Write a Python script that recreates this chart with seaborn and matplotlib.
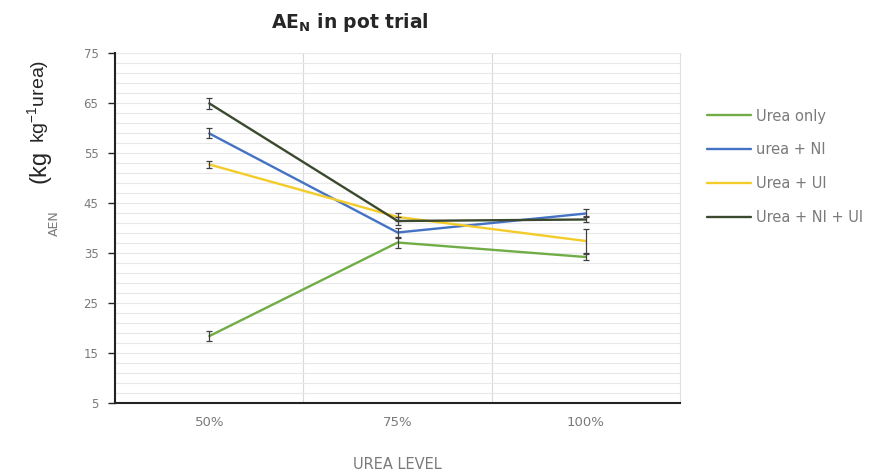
import numpy as np
import pandas as pd
import seaborn as sns
import matplotlib.pyplot as plt

# data
levels = ["50%", "75%", "100%"]
treatments = ["Urea only", "urea + NI", "Urea + UI", "Urea + NI + UI"]
urea_only = [18.4, 37.1, 34.2]
urea_ni = [58.9, 39.1, 42.9]
urea_ui = [52.7, 42.2, 37.4]
urea_ni_ui = [64.9, 41.4, 41.7]
err_urea_only = [1.0, 1.0, 0.6]
err_urea_ni = [1.0, 0.9, 0.8]
err_urea_ui = [0.7, 0.8, 2.4]
err_urea_ni_ui = [1.1, 0.7, 0.6]
colors = ["#70AD47", "#4472C4", "#F4CC2A", "#3B4A2E"]

values = [urea_only, urea_ni, urea_ui, urea_ni_ui]
errors = [err_urea_only, err_urea_ni, err_urea_ui, err_urea_ni_ui]

df = pd.DataFrame({
    "level": levels * len(treatments),
    "treatment": np.repeat(treatments, len(levels)),
    "aen": np.concatenate(values),
})

sns.set_style("white")
plt.rcParams['font.family'] = ['DejaVu Sans']

fig = plt.figure(figsize=(8.72, 4.76), dpi=100)
ax = fig.add_axes([0.132, 0.153, 0.648, 0.736])

sns.pointplot(data=df, x="level", y="aen", hue="treatment", order=levels,
              hue_order=treatments, palette=colors, markers="", linewidth=1.7,
              ax=ax)

# error bars
for i, t in enumerate(treatments):
    ax.errorbar(range(len(levels)), values[i], yerr=errors[i], fmt="none",
                ecolor="#404040", elinewidth=0.9, capsize=2.5, capthick=0.9, zorder=5)

ax.set_xlim(-0.5, 2.5)
ax.set_ylim(5, 75)
ax.set_yticks(np.arange(5, 76, 10))
ax.set_yticks(np.arange(5, 76, 2), minor=True)
ax.grid(axis="y", which="both", color="#e8e8e8", linewidth=0.8)
for xv in [0.5, 1.5]:
    ax.axvline(xv, color="#d9d9d9", linewidth=0.8, zorder=0)
ax.set_axisbelow(True)

ax.spines["top"].set_visible(False)
ax.spines["right"].set_color("#e0e0e0")
ax.spines["left"].set_color("#222222")
ax.spines["bottom"].set_color("#222222")
ax.spines["left"].set_linewidth(1.5)
ax.spines["bottom"].set_linewidth(1.5)

ax.tick_params(axis="y", which="major", length=5, width=1, color="#222222",
               labelsize=8.5, labelcolor="#7a7a7a", left=True, pad=7)
ax.tick_params(axis="y", which="minor", length=0)
ax.tick_params(axis="x", length=0, labelsize=9.5, labelcolor="#7a7a7a", pad=9)

ax.set_xlabel("UREA LEVEL", fontsize=10.5, color="#7a7a7a")
ax.xaxis.set_label_coords(0.5, -0.155)
ax.set_ylabel("AEN", fontsize=9, color="#7a7a7a")
ax.yaxis.set_label_coords(-0.096, 0.514)

fig.text(0.401, 0.953, r"AE$_\mathbf{N}$ in pot trial", fontsize=13.5, fontweight="bold",
         ha="center", va="center")
fig.text(0.052, 0.616, "(kg", rotation=90, rotation_mode="anchor", fontsize=17,
         family=["Liberation Sans", "DejaVu Sans"], ha="left", va="baseline")
fig.text(0.052, 0.699, r"kg$^{\mathregular{-1}}$urea)", rotation=90, rotation_mode="anchor",
         fontsize=14, family=["Liberation Sans", "DejaVu Sans"], ha="left", va="baseline")

ax.legend(loc="upper left", bbox_to_anchor=(0.811, 0.772), bbox_transform=fig.transFigure,
          frameon=False, fontsize=10.5, labelcolor="#7a7a7a", handlelength=3.0,
          labelspacing=1.3, handletextpad=0.35, borderpad=0, borderaxespad=0)

fig.savefig("out.png", dpi=100)
